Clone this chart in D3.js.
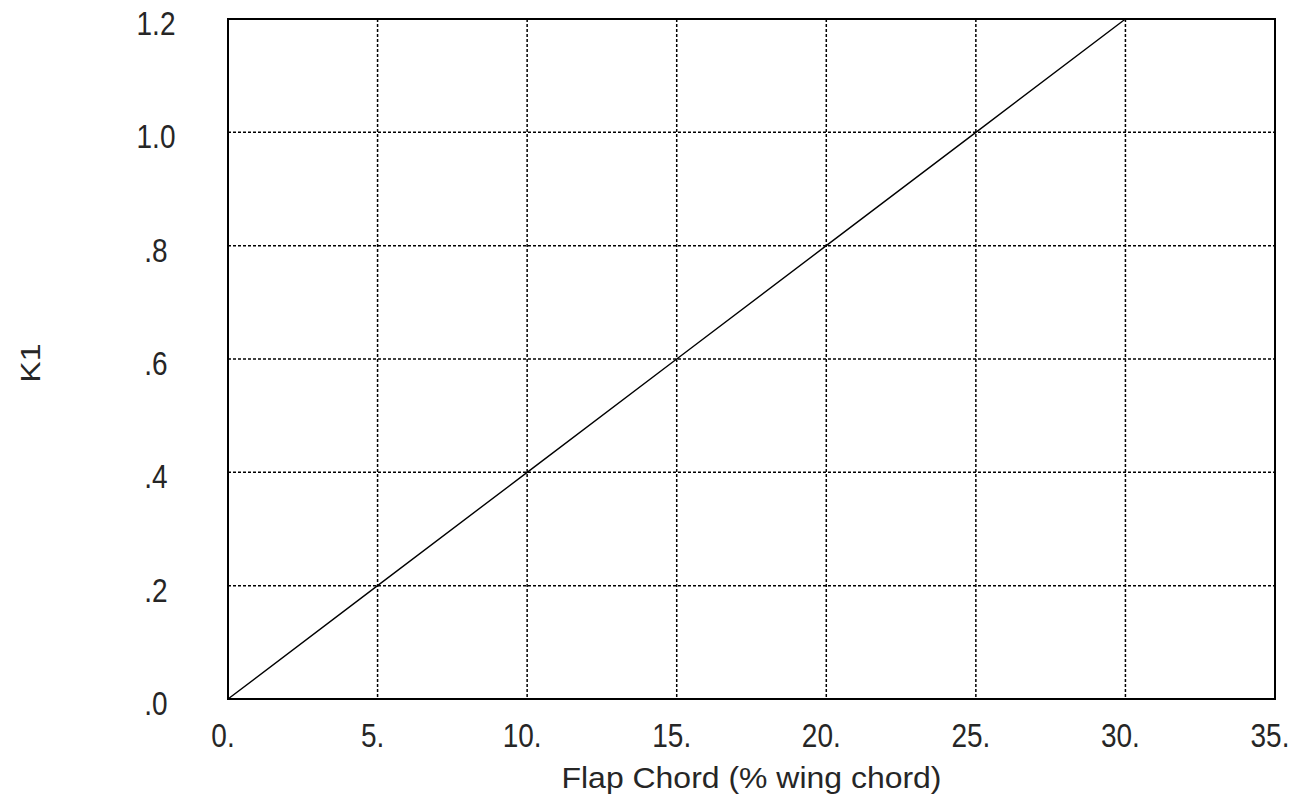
<!DOCTYPE html>
<html><head><meta charset="utf-8">
<script src="https://cdn.jsdelivr.net/npm/d3@7"></script>
<style>body{margin:0;background:#fff;} text{font-family:"Liberation Sans",Arial,sans-serif;fill:#262626;}</style>
</head><body>
<svg id="c" width="1298" height="801"></svg>
<script>
const chordPct = [0, 5, 10, 15, 20, 25, 30];
const k1Values = [0, 0.2, 0.4, 0.6, 0.8, 1.0, 1.2];
const xTicks = [0, 5, 10, 15, 20, 25, 30, 35];
const xTickLabels = ["0.", "5.", "10.", "15.", "20.", "25.", "30.", "35."];
const yTicks = [0, 0.2, 0.4, 0.6, 0.8, 1.0, 1.2];
const yTickLabels = [".0", ".2", ".4", ".6", ".8", "1.0", "1.2"];
const xTitle = "Flap Chord (% wing chord)";
const yTitle = "K1";

const svg = d3.select("#c");
const L = 228, R = 1275, T = 19, B = 699;
const x = d3.scaleLinear().domain([0, 35]).range([L, R]);
const y = d3.scaleLinear().domain([0, 1.2]).range([B, T]);

// grid
svg.append("g").selectAll("line").data(xTicks.filter(d => d > 0 && d < 35)).join("line")
  .attr("x1", d => x(d)).attr("x2", d => x(d)).attr("y1", T).attr("y2", B)
  .attr("stroke", "#000").attr("stroke-width", 1.5).attr("stroke-dasharray", "3,2");
svg.append("g").selectAll("line").data(yTicks.filter(d => d > 0 && d < 1.2)).join("line")
  .attr("y1", d => y(d)).attr("y2", d => y(d)).attr("x1", L).attr("x2", R)
  .attr("stroke", "#000").attr("stroke-width", 1.5).attr("stroke-dasharray", "3,2");

// data line
svg.append("path").datum(chordPct.map((c, i) => [c, k1Values[i]]))
  .attr("d", d3.line().x(d => x(d[0])).y(d => y(d[1])))
  .attr("fill", "none").attr("stroke", "#000").attr("stroke-width", 1.4);

// frame
svg.append("rect").attr("x", L).attr("y", T).attr("width", R - L).attr("height", B - T)
  .attr("fill", "none").attr("stroke", "#000").attr("stroke-width", 2);

// x tick labels
svg.append("g").selectAll("text").data(xTicks).join("text")
  .attr("transform", d => `translate(${x(d) - 5},747) scale(1,1.2)`)
  .attr("text-anchor", "middle").attr("font-size", 28)
  .text((d, i) => xTickLabels[i]);

// y tick labels
svg.append("g").selectAll("text").data(yTicks).join("text")
  .attr("transform", d => `translate(156,${y(d) + 16}) scale(1,1.2)`)
  .attr("text-anchor", "middle").attr("font-size", 28)
  .text((d, i) => yTickLabels[i]);

// axis titles
svg.append("text").attr("x", (L + R) / 2).attr("y", 788)
  .attr("text-anchor", "middle").attr("font-size", 29)
  .attr("textLength", 380).attr("lengthAdjust", "spacingAndGlyphs")
  .text(xTitle);
svg.append("text").attr("transform", "translate(40,363) rotate(-90) scale(1.15,1)")
  .attr("text-anchor", "middle").attr("font-size", 28)
  .text(yTitle);
</script>
</body></html>
